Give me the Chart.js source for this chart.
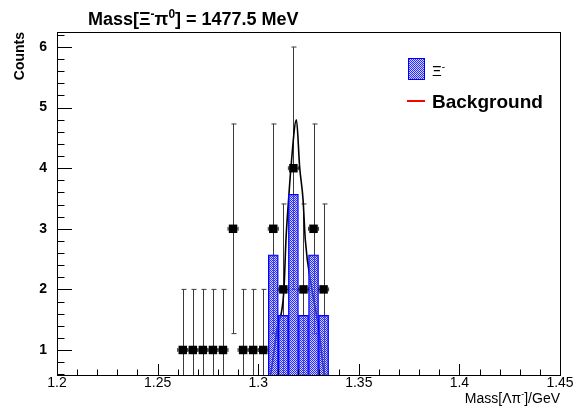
<!DOCTYPE html>
<html>
<head>
<meta charset="utf-8">
<script src="https://cdn.jsdelivr.net/npm/chart.js@4.4.0/dist/chart.umd.min.js"></script>
<style>
  html, body { margin: 0; padding: 0; background: #fff; }
  canvas { display: block; }
</style>
</head>
<body>
<canvas id="massChart" width="578" height="411"></canvas>
<script>
// data points: bin centre (GeV), counts, error
const pointMass   = [1.2625, 1.2675, 1.2725, 1.2775, 1.2825, 1.2875, 1.2925, 1.2975, 1.3025, 1.3075, 1.3125, 1.3175, 1.3225, 1.3275, 1.3325];
const pointCounts = [1, 1, 1, 1, 1, 3, 1, 1, 1, 3, 2, 4, 2, 3, 2];
const pointErrors = [1, 1, 1, 1, 1, 1.73, 1, 1, 1, 1.73, 1.41, 2, 1.41, 1.73, 1.41];
const binHalfWidth = 0.0025;

// Xi- histogram (blue)
const histMass   = [1.3075, 1.3125, 1.3175, 1.3225, 1.3275, 1.3325];
const histCounts = [2.57, 1.57, 3.57, 1.57, 2.57, 1.57];

// fitted curve
const fitMass   = [1.3048, 1.3063, 1.3093, 1.3128, 1.3138, 1.3151, 1.3163, 1.3190, 1.3206, 1.3223, 1.3234, 1.3267, 1.3302, 1.3327, 1.3342];
const fitCounts = [0.40, 0.62, 1.33, 2.00, 2.82, 3.48, 4.02, 4.80, 4.02, 3.48, 2.82, 2.00, 1.33, 0.62, 0.40];

// axis ticks
const xTickValues = [1.2, 1.25, 1.3, 1.35, 1.4, 1.45];
const yTickValues = [1, 2, 3, 4, 5, 6];

const FONT = '"Liberation Sans", Arial, Helvetica, sans-serif';

// ROOT style 3001 fill: checker of blue and see-through pixels
function makePattern() {
    const c = document.createElement('canvas');
    c.width = 2; c.height = 2;
    const g = c.getContext('2d');
    g.fillStyle = 'rgb(40,40,255)';
    g.fillRect(0, 0, 1, 1);
    g.fillRect(1, 1, 1, 1);
    g.fillStyle = 'rgba(150,160,255,0.45)';
    g.fillRect(1, 0, 1, 1);
    g.fillRect(0, 1, 1, 1);
    return g.createPattern(c, 'repeat');
}
const blueFill = makePattern();

// text with superscripts
function drawRich(ctx, parts, x, y, size, weight, align) {
    const fontFor = p => `${weight} ${p.sup ? Math.round(size * 0.65) : size}px ${FONT}`;
    let total = 0;
    parts.forEach(p => { ctx.font = fontFor(p); total += ctx.measureText(p.t).width; });
    let cx = align === 'right' ? x - total : x;
    ctx.textAlign = 'left';
    ctx.textBaseline = 'alphabetic';
    parts.forEach(p => {
        ctx.font = fontFor(p);
        ctx.fillText(p.t, cx, p.sup ? y - size * 0.4 : y);
        cx += ctx.measureText(p.t).width;
    });
}

const errorBars = {
    id: 'errorBars',
    beforeDatasetsDraw(chart) {
        const { ctx, chartArea: a, scales: { x, y } } = chart;
        ctx.save();
        ctx.beginPath();
        ctx.rect(a.left, a.top, a.width, a.height);
        ctx.clip();
        ctx.strokeStyle = '#3a3a3a';
        ctx.lineWidth = 1;
        ctx.beginPath();
        pointMass.forEach((m, i) => {
            const px = Math.round(x.getPixelForValue(m)) + 0.5;
            const py = y.getPixelForValue(pointCounts[i]);
            const top = y.getPixelForValue(pointCounts[i] + pointErrors[i]);
            const bot = y.getPixelForValue(pointCounts[i] - pointErrors[i]);
            ctx.moveTo(px, bot); ctx.lineTo(px, top);
            ctx.moveTo(px - 2, top); ctx.lineTo(px + 3, top);
            ctx.moveTo(px - 2, bot); ctx.lineTo(px + 3, bot);
            const xl = x.getPixelForValue(m - binHalfWidth);
            const xr = x.getPixelForValue(m + binHalfWidth);
            ctx.moveTo(xl, py); ctx.lineTo(xr, py);
            ctx.moveTo(xl, py - 2); ctx.lineTo(xl, py + 2);
            ctx.moveTo(xr, py - 2); ctx.lineTo(xr, py + 2);
        });
        ctx.stroke();
        ctx.restore();
    }
};

const rootFrame = {
    id: 'rootFrame',
    afterDatasetsDraw(chart) {
        const { ctx, chartArea: a, scales: { x, y } } = chart;
        ctx.save();
        ctx.strokeStyle = '#000';
        ctx.lineWidth = 1;
        ctx.beginPath();
        // x ticks, 5 divisions between labels
        for (let i = 0; i <= 25; i++) {
            const px = Math.round(x.getPixelForValue(1.2 + i * 0.01)) + 0.5;
            const len = i % 5 === 0 ? 11 : 5.5;
            ctx.moveTo(px, a.bottom);
            ctx.lineTo(px, a.bottom - len);
        }
        // y ticks
        for (let i = 3; i <= 31; i++) {
            const py = Math.round(y.getPixelForValue(i * 0.2)) + 0.5;
            const len = i % 5 === 0 ? 15 : 7.5;
            ctx.moveTo(a.left, py);
            ctx.lineTo(a.left + len, py);
        }
        ctx.stroke();
        ctx.strokeRect(Math.round(a.left) + 0.5, Math.round(a.top) + 0.5,
            Math.round(a.right - a.left), Math.round(a.bottom - a.top));
        ctx.restore();
    },
    afterDraw(chart) {
        const { ctx, chartArea: a } = chart;
        ctx.save();
        ctx.fillStyle = '#000';
        // title
        drawRich(ctx, [{ t: 'Mass[Ξ' }, { t: '-', sup: true }, { t: 'π' }, { t: '0', sup: true }, { t: '] = 1477.5 MeV' }],
            88, 25, 18, 'bold', 'left');
        // x axis title
        drawRich(ctx, [{ t: 'Mass[Λπ' }, { t: '-', sup: true }, { t: ']/GeV' }],
            a.right, 403, 14, 'normal', 'right');
        // y axis title
        ctx.save();
        ctx.translate(24, a.top);
        ctx.rotate(-Math.PI / 2);
        ctx.font = `bold 14px ${FONT}`;
        ctx.textAlign = 'right';
        ctx.textBaseline = 'alphabetic';
        ctx.fillText('Counts', 0, 0);
        ctx.restore();
        // legend
        ctx.fillStyle = blueFill;
        ctx.fillRect(408, 58, 17, 22);
        ctx.strokeStyle = '#0000ff';
        ctx.lineWidth = 1;
        ctx.strokeRect(408.5, 58.5, 16, 21);
        ctx.fillStyle = '#000';
        drawRich(ctx, [{ t: 'Ξ' }, { t: '-', sup: true }], 432, 76, 15, 'normal', 'left');
        ctx.strokeStyle = '#ff0000';
        ctx.lineWidth = 2;
        ctx.beginPath();
        ctx.moveTo(407, 101);
        ctx.lineTo(425, 101);
        ctx.stroke();
        drawRich(ctx, [{ t: 'Background' }], 432, 108, 19, 'bold', 'left');
        ctx.restore();
    }
};

new Chart(document.getElementById('massChart'), {
    type: 'bar',
    data: {
        datasets: [
            {
                type: 'bar',
                label: 'Xi-',
                data: histMass.map((m, i) => ({ x: m, y: histCounts[i] })),
                backgroundColor: blueFill,
                borderColor: '#0000ff',
                borderWidth: 1,
                barPercentage: 1,
                categoryPercentage: 1,
                clip: 0,
                order: 1
            },
            {
                type: 'scatter',
                label: 'data',
                data: pointMass.map((m, i) => ({ x: m, y: pointCounts[i] })),
                pointStyle: 'rect',
                pointRadius: 6,
                backgroundColor: '#000',
                borderColor: '#000',
                borderWidth: 0,
                order: 2
            },
            {
                type: 'line',
                label: 'fit',
                data: fitMass.map((m, i) => ({ x: m, y: fitCounts[i] })),
                borderColor: '#000',
                borderWidth: 1.6,
                pointRadius: 0,
                cubicInterpolationMode: 'monotone',
                fill: false,
                clip: 0,
                order: 3
            }
        ]
    },
    options: {
        responsive: false,
        animation: false,
        devicePixelRatio: 1,
        layout: { padding: { top: 32, right: 18, bottom: 0, left: 0 } },
        plugins: {
            legend: { display: false },
            tooltip: { enabled: false },
            title: { display: false }
        },
        scales: {
            x: {
                type: 'linear',
                min: 1.2,
                max: 1.45,
                offset: false,
                grid: { display: false, drawTicks: false, offset: false },
                border: { display: false },
                afterBuildTicks: scale => { scale.ticks = xTickValues.map(value => ({ value })); },
                afterFit: scale => { scale.height = 36; },
                ticks: {
                    padding: 0,
                    autoSkip: false,
                    maxRotation: 0,
                    color: '#000',
                    font: { family: FONT, size: 14 },
                    callback: v => String(+v.toFixed(3))
                }
            },
            y: {
                type: 'linear',
                min: 0.587,
                max: 6.248,
                grid: { display: false, drawTicks: false },
                border: { display: false },
                afterBuildTicks: scale => { scale.ticks = yTickValues.map(value => ({ value })); },
                afterFit: scale => { scale.width = 57; },
                ticks: {
                    padding: 10,
                    color: '#000',
                    font: { family: FONT, size: 14, weight: 'bold' }
                }
            }
        }
    },
    plugins: [errorBars, rootFrame]
});
</script>
</body>
</html>
